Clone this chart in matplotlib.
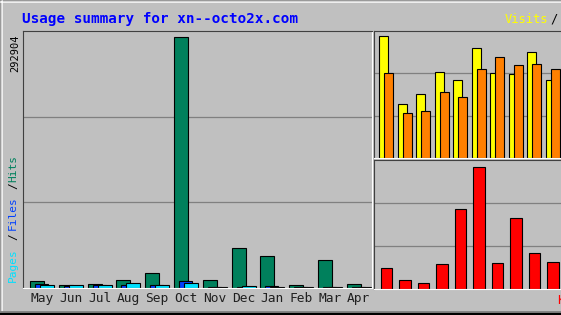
import matplotlib
matplotlib.use("Agg")
import matplotlib.pyplot as plt
import numpy as np

W, H = 561, 315

months = ["May", "Jun", "Jul", "Aug", "Sep", "Oct", "Nov", "Dec", "Jan", "Feb", "Mar", "Apr"]
hits = [8700, 3500, 5000, 9500, 17400, 292904, 9000, 46500, 37000, 3000, 32500, 4500]
files = [4300, 2300, 3500, 4000, 3500, 8500, 1200, 1500, 2500, 1200, 1200, 1200]
pages = [4000, 3500, 3500, 6000, 3500, 6000, 1200, 2500, 1200, 1200, 1200, 1200]
visits = [1220, 540, 640, 860, 780, 1100, 850, 840, 1060, 780, 800, 700]
sites = [850, 450, 470, 660, 610, 890, 1010, 930, 940, 890, 850, 800]
kbytes = [420000, 180000, 120000, 500000, 1600000, 2440000, 520000, 1420000, 720000, 540000, 400000, 300000]

HIT, FILE, PAGE = "#00805C", "#0040FF", "#00E0FF"
VISIT, SITE, KB = "#FFFF00", "#FF8000", "#FF0000"
GREY, DARK = "#C0C0C0", "#808080"
MONO = "DejaVu Sans Mono"

fig = plt.figure(figsize=(W / 100, H / 100), dpi=100, facecolor=GREY)


def px_axes(x0, y0, x1, y1):
    # axes placed by pixel box (origin top-left)
    ax = fig.add_axes([x0 / W, 1 - y1 / H, (x1 - x0) / W, (y1 - y0) / H])
    ax.set_facecolor(GREY)
    ax.set_axisbelow(True)
    for s in ("top", "left"):
        ax.spines[s].set_color("#404040")
        ax.spines[s].set_linewidth(0.8)
    for s in ("bottom", "right"):
        ax.spines[s].set_color("white")
        ax.spines[s].set_linewidth(0.8)
    ax.tick_params(length=0, labelleft=False)
    return ax


def t(x, y, s, **kw):
    kw.setdefault("family", MONO)
    fig.text(x / W, 1 - y / H, s, **kw)


# outer border
bg = fig.add_axes([0, 0, 1, 1], zorder=-1)
bg.set_xlim(0, W)
bg.set_ylim(H, 0)
bg.axis("off")
bg.plot([0.5, W, W], [0.5, 0.5, 0.5], color="black", lw=1)
bg.plot([0.5, 0.5], [0, H], color="black", lw=1)
bg.plot([1.8, 1.8], [1, H - 3], color="white", lw=1.2)
bg.plot([1, W], [2, 2], color="white", lw=1.2)
bg.plot([1, W], [H - 3.5, H - 3.5], color=DARK, lw=2)
bg.plot([0, W], [H - 1, H - 1], color="black", lw=1.5)

x = np.arange(12)

# main panel: hits / files / pages
pitch = 28.8
ax = px_axes(23, 31, 372, 288)
ax.set_xlim(-7 / pitch, 342 / pitch)
top = 292904 * 257 / 251
ax.set_ylim(0, top)
ax.set_yticks([top / 3, 2 * top / 3])
ax.yaxis.grid(True, color=DARK, lw=0.9)
bw = 14 / pitch
ax.bar(x, hits, width=bw, align="edge", color=HIT, edgecolor="black", lw=0.8)
ax.bar(x + 5 / pitch, files, width=bw - 1 / pitch, align="edge", color=FILE, edgecolor="black", lw=0.8)
ax.bar(x + 10 / pitch, pages, width=bw, align="edge", color=PAGE, edgecolor="black", lw=0.8)
ax.set_xticks(x + 12 / pitch)
ax.set_xticklabels(months, family=MONO, fontsize=9.3, color="#202020")
ax.tick_params(axis="x", pad=3)

# right top: visits / sites
rp = 18.5
ax2 = px_axes(374, 31, 604, 158)
ax2.set_xlim(-5 / rp, 225 / rp)
top2 = 1220 * 127 / 122
ax2.set_ylim(0, top2)
ax2.set_yticks([top2 / 3, 2 * top2 / 3])
ax2.yaxis.grid(True, color=DARK, lw=0.9)
ax2.set_xticks([])
ax2.bar(x, visits, width=9 / rp, align="edge", color=VISIT, edgecolor="black", lw=0.8)
ax2.bar(x + 5 / rp, sites, width=9.3 / rp, align="edge", color=SITE, edgecolor="black", lw=0.8)

# right bottom: kbytes
ax3 = px_axes(374, 160, 604, 289)
ax3.set_xlim(-5 / rp, 225 / rp)
top3 = 2440000 * 129 / 122
ax3.set_ylim(0, top3)
ax3.set_yticks([top3 / 3, 2 * top3 / 3])
ax3.yaxis.grid(True, color=DARK, lw=0.9)
ax3.set_xticks([])
ax3.bar(x + 1.5 / rp, kbytes, width=11.5 / rp, align="edge", color=KB, edgecolor="black", lw=0.8)

# texts
t(22, 23, "Usage summary for xn--octo2x.com", color="#0000FF", fontsize=10.3,
  weight="bold", va="baseline")
t(505, 23, "Visits", color=VISIT, fontsize=8.7, va="baseline")
t(550, 23, "/", color="black", fontsize=8.7, va="baseline")
t(557, 304, "KBytes", color=KB, fontsize=9.3, va="baseline")

t(15, 34, "292904", rotation=90, ha="center", va="top", fontsize=7.5, color="black")
t(13, 282, "Pages", rotation=90, ha="center", va="bottom", fontsize=8, color=PAGE)
t(13, 237, "/", rotation=90, ha="center", va="center", fontsize=8, color="black")
t(13, 230, "Files", rotation=90, ha="center", va="bottom", fontsize=8, color=FILE)
t(13, 186, "/", rotation=90, ha="center", va="center", fontsize=8, color="black")
t(13, 182, "Hits", rotation=90, ha="center", va="bottom", fontsize=8, color=HIT)

fig.savefig("out.png", dpi=100, facecolor=GREY)
